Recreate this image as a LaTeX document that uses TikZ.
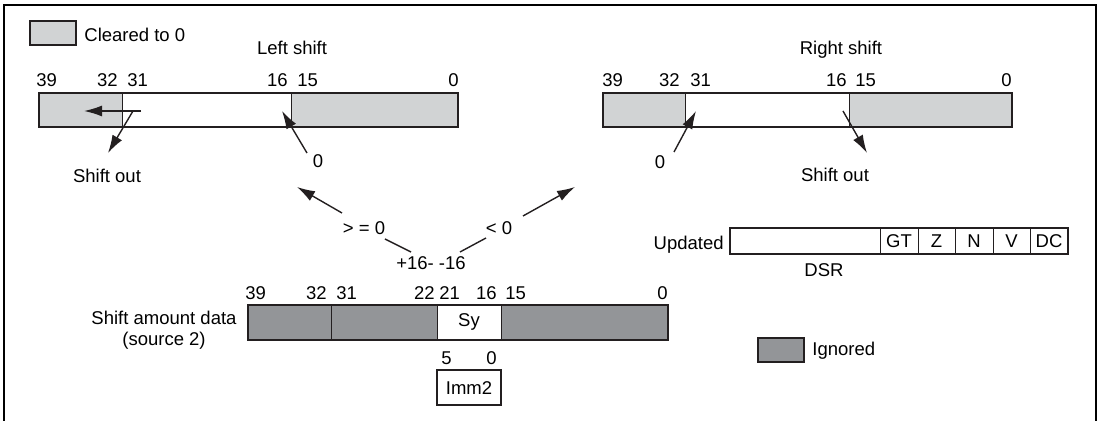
\documentclass[tikz,border=0pt]{standalone}
\usepackage{fontspec}
\setmainfont{Liberation Sans}
\usetikzlibrary{arrows.meta}
\definecolor{clrgrey}{HTML}{D1D3D4}
\definecolor{igngrey}{HTML}{939598}
\definecolor{edge}{HTML}{231F20}

\begin{document}
\begin{tikzpicture}[x=0.5pt,y=-0.5pt,font=\fontsize{9.25}{11}\selectfont,
  lbl/.style={anchor=base,inner sep=0pt},
  reg/.style={draw=edge,line width=1.3pt},
  div/.style={draw=edge,line width=0.5pt},
  arr/.style={-{Latex[length=9pt,width=5.5pt]},line width=0.7pt,draw=edge}]
\useasboundingbox (0,0) rectangle (1099,421);
\draw[line width=1pt] (4,421)--(4,5)--(1096,5)--(1096,421);
% legend
\draw[reg,fill=clrgrey] (30,21) rectangle (76,45);
\node[lbl,anchor=base west] (clrtxt) at (84,42) {Cleared to 0};
\draw[reg,fill=igngrey] (758,338) rectangle (804,362);
\node[lbl,anchor=base west] (igntxt) at (812,356) {Ignored};
% left shift register
\node[lbl] (lsname) at (292,55) {Left shift};
\fill[clrgrey] (39,93) rectangle (122,127);
\fill[clrgrey] (291,93) rectangle (458,127);
\draw[div] (122,93)--(122,127);\draw[div] (291,93)--(291,127);
\draw[reg] (39,93) rectangle (458,127);
\node[lbl,anchor=base west] (l39) at (36,87) {39};
\node[lbl,anchor=base east] (l32) at (118,87) {32};\node[lbl,anchor=base west] (l31) at (127,87) {31};
\node[lbl,anchor=base east] (l16) at (288,87) {16};\node[lbl,anchor=base west] (l15) at (297,87) {15};
\node[lbl,anchor=base east] (l0) at (459,87) {0};
\node[lbl] (lsout) at (107,183) {Shift out};
\node[lbl] (lszero) at (318,168) {0};
\coordinate (lsa) at (141,111);\coordinate (lsb) at (84,111);
\coordinate (lsc) at (133,111);\coordinate (lsd) at (108,153);
\coordinate (lse) at (307,153);\coordinate (lsf) at (282,111);
\draw[arr] (lsa)--(lsb);
\draw[arr] (lsc)--(lsd);
\draw[arr] (lse)--(lsf);
% right shift register
\node[lbl] (rsname) at (841,55) {Right shift};
\fill[clrgrey] (603,93) rectangle (685,127);
\fill[clrgrey] (849,93) rectangle (1012,127);
\draw[div] (685,93)--(685,127);\draw[div] (849,93)--(849,127);
\draw[reg] (603,93) rectangle (1012,127);
\node[lbl,anchor=base west] (r39) at (602,87) {39};
\node[lbl,anchor=base east] (r32) at (680,87) {32};\node[lbl,anchor=base west] (r31) at (690,87) {31};
\node[lbl,anchor=base east] (r16) at (847,87) {16};\node[lbl,anchor=base west] (r15) at (855,87) {15};
\node[lbl,anchor=base east] (r0) at (1012,87) {0};
\node[lbl] (rszero) at (660,169) {0};
\node[lbl] (rsout) at (835,182) {Shift out};
\coordinate (rsa) at (674,152);\coordinate (rsb) at (696,111);
\coordinate (rsc) at (843,111);\coordinate (rsd) at (867,153);
\draw[arr] (rsa)--(rsb);
\draw[arr] (rsc)--(rsd);
% selection
\node[lbl] (gezero) at (364,235) {> = 0};
\node[lbl] (ltzero) at (499,235) {< 0};
\node[lbl] (sixteen) at (431,270) {+16- -16};
\coordinate (ma) at (342,213);\coordinate (mb) at (297,187);
\coordinate (mc) at (523,216);\coordinate (md) at (575,187);
\coordinate (me) at (385,239);\coordinate (mf) at (411,252);
\coordinate (mg) at (460,252);\coordinate (mh) at (486,238);
\draw[arr] (ma)--(mb);
\draw[arr] (mc)--(md);
\draw[line width=0.7pt,edge] (me)--(mf);
\draw[line width=0.7pt,edge] (mg)--(mh);
% shift amount data
\node[lbl] (srcname) at (164,325) {Shift amount data};
\node[lbl] (srcnum) at (164,346) {(source 2)};
\fill[igngrey] (248,305) rectangle (437,340);
\fill[igngrey] (501,305) rectangle (668,340);
\draw[div] (331,305)--(331,340);\draw[div] (437,305)--(437,340);\draw[div] (501,305)--(501,340);
\draw[reg] (248,305) rectangle (668,340);
\node (sy) at (469,322) {Sy};
\node[lbl,anchor=base west] (s39) at (245,300) {39};
\node[lbl,anchor=base east] (s32) at (327,300) {32};\node[lbl,anchor=base west] (s31) at (336,300) {31};
\node[lbl,anchor=base east] (s22) at (435,300) {22};\node[lbl,anchor=base west] (s21) at (439,300) {21};
\node[lbl,anchor=base east] (s16) at (497,300) {16};\node[lbl,anchor=base west] (s15) at (505,300) {15};
\node[lbl,anchor=base east] (s0) at (668,300) {0};
\node[lbl,anchor=base west] (i5) at (441,365) {5};
\node[lbl,anchor=base east] (i0) at (497,365) {0};
\draw[reg] (437,370) rectangle (501,405);
\node (imm) at (469,388) {Imm2};
% DSR
\node[lbl,anchor=base east] (upd) at (724,250) {Updated};
\draw[div] (880,228)--(880,254);\draw[div] (918,228)--(918,254);\draw[div] (955,228)--(955,254);
\draw[div] (993,228)--(993,254);\draw[div] (1030,228)--(1030,254);
\draw[reg] (730,228) rectangle (1068,254);
\node (gt) at (899,241) {GT};\node (z) at (936.5,241) {Z};\node (n) at (974,241) {N};
\node (v) at (1011.5,241) {V};\node (dc) at (1049,241) {DC};
\node[lbl] (dsr) at (824,277) {DSR};
\end{tikzpicture}
\end{document}
